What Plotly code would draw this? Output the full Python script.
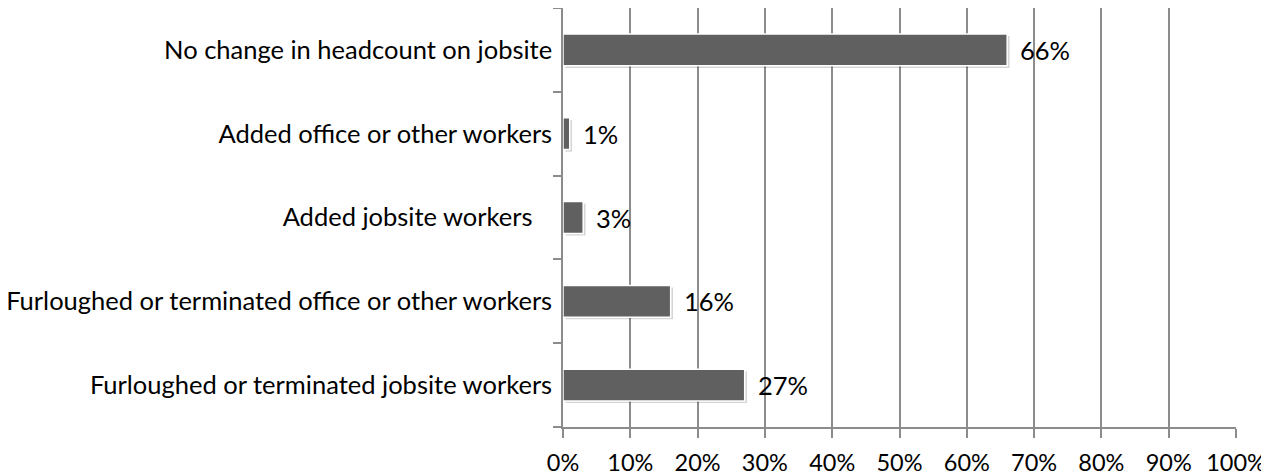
import plotly.graph_objects as go

categories = [
    "Furloughed or terminated jobsite workers",
    "Furloughed or terminated office or other workers",
    "Added jobsite workers\u00a0\u00a0\u00a0",
    "Added office or other workers",
    "No change in headcount on jobsite",
]
values = [27, 16, 3, 1, 66]
labels = ["27%", "16%", "3%", "1%", "66%"]
tick_vals = [0, 10, 20, 30, 40, 50, 60, 70, 80, 90, 100]
tick_text = ["0%", "10%", "20%", "30%", "40%", "50%", "60%", "70%", "80%", "90%", "100%"]

FONT = "Lato, Carlito, Calibri, sans-serif"
FS = 25.5
FSX = 23.5
GRID = "#8c8c8c"

fig = go.Figure()
# soft shadow (below / right of each bar)
fig.add_trace(go.Bar(
    y=categories, x=values, orientation="h", base=0.35,
    marker=dict(color="rgba(0,0,0,0.16)", line=dict(width=0)),
    offset=-0.215, width=0.38, hoverinfo="skip", showlegend=False,
))
fig.add_trace(go.Bar(
    y=categories, x=values, orientation="h",
    marker=dict(color="#606060", line=dict(color="white", width=1.5)),
    offset=-0.19, width=0.38, showlegend=False,
))

for c, v, t in zip(categories, values, labels):
    fig.add_annotation(x=v, y=c, text=t, showarrow=False, xanchor="left",
                       xshift=11, font=dict(family=FONT, size=FS, color="black"))

fig.update_layout(
    width=1261, height=468,
    margin=dict(l=555, r=33, t=0, b=49),
    paper_bgcolor="white", plot_bgcolor="white",
    barmode="overlay",
    font=dict(family=FONT, size=FS, color="black"),
)
fig.update_xaxes(
    range=[0, 100], tickvals=tick_vals, ticktext=tick_text,
    showgrid=True, gridcolor=GRID, gridwidth=1.5,
    showline=True, linecolor=GRID, linewidth=1.5,
    ticks="outside", ticklen=9, tickcolor=GRID, tickwidth=1.5,
    zeroline=False, tickfont=dict(family=FONT, size=FSX), automargin=False,
    ticklabeloverflow="allow", ticklabelstandoff=5,
)
fig.update_yaxes(
    categoryorder="array", categoryarray=categories,
    showline=True, linecolor=GRID, linewidth=1.5,
    ticks="outside", ticklen=8, tickcolor=GRID, tickwidth=1.5,
    tickson="boundaries", showgrid=False,
    tickfont=dict(family=FONT, size=FS), ticklabelstandoff=4, automargin=False,
    ticklabeloverflow="allow",
)

fig.write_html("out.html")
